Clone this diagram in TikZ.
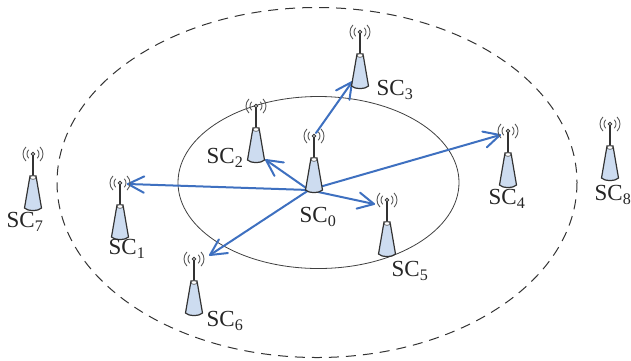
\documentclass[tikz,border=0pt]{standalone}
\usepackage{fontspec}
\setmainfont{Liberation Serif}
\usetikzlibrary{calc}
\definecolor{linkblue}{RGB}{62,112,192}
\definecolor{towerfill}{RGB}{205,220,240}
\tikzset{
  tower/.pic={
    \draw[line width=1.1pt,black!80] (0,0)--(0,24);
    \draw[line width=0.9pt,black!80,fill=white] (0,0) circle (1.7);
    \foreach \r in {6,10}{
      \draw[line width=0.9pt,black!65] (-45:\r) arc (-45:45:\r);
      \draw[line width=0.9pt,black!65] (135:\r) arc (135:225:\r);
    }
    \draw[line width=1.2pt,black!80,fill=towerfill] (-3,22)--(3,22)--(8.5,54)
      .. controls (5,57.5) and (-5,57.5) .. (-8.5,54)--cycle;
    \draw[line width=0.7pt,black!70,fill=white] (0,23.5) ellipse (3 and 1.8);
  },
  sclabel/.style={inner sep=0pt,text=black!85,font=\fontsize{23}{23}\selectfont},
  link/.style={linkblue,line width=2pt,line cap=round,line join=round}
}
\newcommand{\sclink}[2]{
  \draw[link] (#1)--(#2);
  \draw[link] ($(#2)!18pt!27:(#1)$)--(#2)--($(#2)!18pt!-27:(#1)$);
}
\begin{document}
\begin{tikzpicture}[x=1pt,y=-1pt]
\useasboundingbox (0,0) rectangle (631,360);
\draw[line width=0.8pt,black!75] (318.5,182.5) ellipse (140.5 and 86);
\draw[line width=1pt,dash pattern=on 10pt off 7pt,black!80] (317,182.5) ellipse (260 and 175);
\coordinate (hub) at (309,190);
\coordinate (top) at (316,133);
\coordinate (to1) at (128,184);
\coordinate (to2) at (266,160);
\coordinate (to3) at (352,82);
\coordinate (to4) at (500,135);
\coordinate (to5) at (374,204);
\coordinate (to6) at (210,255);
\sclink{hub}{to1}
\sclink{hub}{to2}
\sclink{top}{to3}
\sclink{hub}{to4}
\sclink{hub}{to5}
\sclink{hub}{to6}
\pic at (314,136) {tower};
\pic at (256,106) {tower};
\pic at (360,32) {tower};
\pic at (508,131) {tower};
\pic at (387,200) {tower};
\pic at (194,259) {tower};
\pic at (120,183) {tower};
\pic at (33,154) {tower};
\pic at (610,124) {tower};
\node[sclabel] (sc0) at (318,217) {SC\textsubscript{0}};
\node[sclabel] (sc1) at (127,249) {SC\textsubscript{1}};
\node[sclabel] (sc2) at (225,158) {SC\textsubscript{2}};
\node[sclabel] (sc3) at (395,90) {SC\textsubscript{3}};
\node[sclabel] (sc4) at (507,199) {SC\textsubscript{4}};
\node[sclabel] (sc5) at (410,271) {SC\textsubscript{5}};
\node[sclabel] (sc6) at (225,321) {SC\textsubscript{6}};
\node[sclabel] (sc7) at (25,222) {SC\textsubscript{7}};
\node[sclabel] (sc8) at (613,195) {SC\textsubscript{8}};
\end{tikzpicture}
\end{document}
